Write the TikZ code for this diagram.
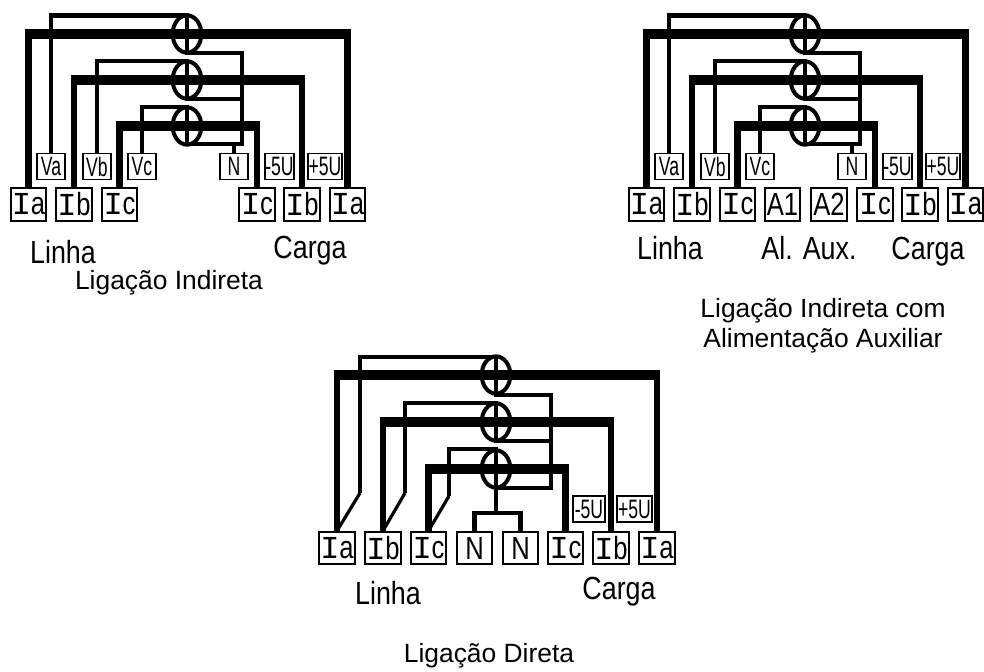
\documentclass[tikz,border=0pt]{standalone}
\usepackage{fontspec}
\setmainfont{Liberation Sans}
\newfontfamily\monoI{Liberation Mono}
\usetikzlibrary{shapes.geometric}
\newcommand{\serI}{{\monoI\fontsize{24}{24}\selectfont I}}
\newcommand{\tlabel}[1]{\scalebox{.84}[1]{\fontsize{24}{24}\selectfont #1}}
\newcommand{\bigt}[1]{\scalebox{.8}[1]{\fontsize{24}{24}\selectfont #1}}
\newcommand{\smallt}[1]{\scalebox{.66}[1]{\fontsize{20}{20}\selectfont #1}}
\tikzset{
  x=.75pt,y=-.75pt,
  bigbox/.style={draw,line width=1.3pt,minimum width=26.5pt,minimum height=24.5pt,inner sep=0pt},
  smallbox/.style={draw,line width=1.3pt,minimum width=21pt,minimum height=19.5pt,inner sep=0pt},
  meter/.style={ellipse,draw,line width=3pt,minimum width=21.5pt,minimum height=28pt,inner sep=0pt},
  busv/.style={line width=4.6pt},
  bush/.style={line width=6.8pt},
  thin wire/.style={line width=3.3pt},
  slant/.style={line width=2.4pt},
  caption/.style={anchor=base,font=\fontsize{19.8}{22}\selectfont,align=center},
  handlabel/.style={anchor=base,inner sep=0pt}
}
\newcommand{\busline}[3]{%
  \draw[busv] (#1.north) -- (#1.north |- #2.center);
  \draw[busv] (#3.north) -- (#3.north |- #2.center);
  \draw[bush] ([xshift=-2.3pt]#1.north |- #2.center) -- ([xshift=2.3pt]#3.north |- #2.center);
}
\newcommand{\meterdiagram}{%
  \node[meter] (c1) at (187,34) {};
  \node[meter] (c2) at (187,80) {};
  \node[meter] (c3) at (187,126) {};
  \coordinate (t1) at (187,15.5);
  \coordinate (t2) at (187,61);
  \coordinate (t3) at (187,107);
  \coordinate (b1) at (187,53);
  \coordinate (b2) at (187,99);
  \coordinate (b3) at (187,144);
  \coordinate (rail) at (242,53);
  \node[bigbox] (IaL) at (28.5,204.5) {\serI\bigt{a}};
  \node[bigbox] (IbL) at (74,204.5) {\serI\bigt{b}};
  \node[bigbox] (IcL) at (119.5,204.5) {\serI\bigt{c}};
  \node[bigbox] (IcR) at (257,204.5) {\serI\bigt{c}};
  \node[bigbox] (IbR) at (302,204.5) {\serI\bigt{b}};
  \node[bigbox] (IaR) at (347.5,204.5) {\serI\bigt{a}};
  \node[smallbox] (Va) at (51,166.5) {\smallt{Va}};
  \node[smallbox] (Vb) at (97,166.5) {\smallt{Vb}};
  \node[smallbox] (Vc) at (142,166.5) {\smallt{Vc}};
  \node[smallbox] (N) at (234,166.5) {\smallt{N}};
  \node[smallbox] (m5) at (279.5,166.5) {\smallt{-5U}};
  \node[smallbox,minimum width=25pt] (p5) at (325,166.5) {\smallt{+5U}};
  \draw[thin wire,line cap=butt] (Va.north) |- (t1) -- (b1) -- (rail) -- (rail |- b3) -- (b3);
  \draw[thin wire] (Vb.north) |- (t2) -- (b2) -- (rail |- b2);
  \draw[thin wire] (Vc.north) |- (t3) -- (b3);
  \draw[thin wire] (N.north) -- (N.north |- b3);
  \busline{IaL}{c1}{IaR}
  \busline{IbL}{c2}{IbR}
  \busline{IcL}{c3}{IcR}
}
\begin{document}
\begin{tikzpicture}
\useasboundingbox (0,0) rectangle (984,671);
% left diagram
\begin{scope}[name prefix=A-]
  \meterdiagram
\end{scope}
\node[handlabel] (A-linha) at (63,263) {\tlabel{Linha}};
\node[handlabel] (A-carga) at (310,258) {\tlabel{Carga}};
\node[caption] (A-cap) at (169,289) {Ligação Indireta};
% right diagram
\begin{scope}[shift={(618,0)},name prefix=B-]
  \meterdiagram
  \node[bigbox] (A1) at (164.5,204.5) {\bigt{A1}};
  \node[bigbox] (A2) at (211,204.5) {\bigt{A2}};
\end{scope}
\node[handlabel] (B-linha) at (670,259) {\tlabel{Linha}};
\node[handlabel] (B-aux) at (809,259) {\tlabel{Al. Aux.}};
\node[handlabel] (B-carga) at (928,259) {\tlabel{Carga}};
\node[caption] (B-cap1) at (823,317) {Ligação Indireta com};
\node[caption] (B-cap2) at (823,347) {Alimentação Auxiliar};
% bottom diagram
\begin{scope}[name prefix=C-]
  \node[meter] (c1) at (496,375) {};
  \node[meter] (c2) at (496,422) {};
  \node[meter] (c3) at (496,469) {};
  \coordinate (t1) at (496,357);
  \coordinate (t2) at (496,403);
  \coordinate (t3) at (496,449);
  \coordinate (b1) at (496,395);
  \coordinate (b2) at (496,441);
  \coordinate (b3) at (496,488);
  \coordinate (rail) at (551,395);
  \coordinate (ka) at (360,493);
  \coordinate (kb) at (405,493);
  \coordinate (kc) at (449,496);
  \coordinate (fork) at (495,513);
  \node[bigbox] (IaL) at (337,548) {\serI\bigt{a}};
  \node[bigbox] (IbL) at (383,548) {\serI\bigt{b}};
  \node[bigbox] (IcL) at (428.5,548) {\serI\bigt{c}};
  \node[bigbox] (N1) at (474.5,548) {\bigt{N}};
  \node[bigbox] (N2) at (520.5,548) {\bigt{N}};
  \node[bigbox] (IcR) at (565.5,548) {\serI\bigt{c}};
  \node[bigbox] (IbR) at (611,548) {\serI\bigt{b}};
  \node[bigbox] (IaR) at (657,548) {\serI\bigt{a}};
  \node[smallbox,minimum width=24pt] (m5) at (589,509) {\smallt{-5U}};
  \node[smallbox,minimum width=26pt] (p5) at (634.5,509) {\smallt{+5U}};
  \draw[thin wire] (ka) |- (t1) -- (b1) -- (rail) -- (rail |- b3) -- (b3);
  \draw[thin wire] (kb) |- (t2) -- (b2) -- (rail |- b2);
  \draw[thin wire] (kc) |- (t3) -- (b3);
  \draw[thin wire] (b3) -- (fork -| b3);
  \draw[thin wire] (N1.north) |- (fork) -| (N2.north);
  \draw[slant] (ka) -- (IaL.north);
  \draw[slant] (kb) -- (IbL.north);
  \draw[slant] (kc) -- (IcL.north);
  \busline{IaL}{c1}{IaR}
  \busline{IbL}{c2}{IbR}
  \busline{IcL}{c3}{IcR}
\end{scope}
\node[handlabel] (C-linha) at (388,604) {\tlabel{Linha}};
\node[handlabel] (C-carga) at (619,599) {\tlabel{Carga}};
\node[caption] (C-cap) at (489,662) {Ligação Direta};
\end{tikzpicture}
\end{document}
